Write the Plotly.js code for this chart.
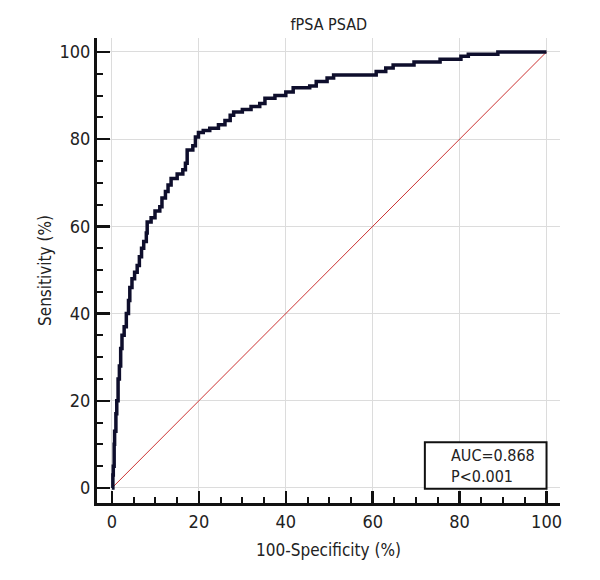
<!DOCTYPE html>
<html>
<head>
<meta charset="utf-8">
<script src="https://cdn.plot.ly/plotly-3.0.1.min.js"></script>
<style>
  body { margin: 0; background: #fff; }
  #plot { width: 600px; height: 580px; }
</style>
</head>
<body>
<div id="plot"></div>
<script>
// ROC curve vertices (100-specificity, sensitivity)
var fpr = [0, 0.2, 0.3, 0.5, 0.6, 0.9, 1.1, 1.4, 1.7, 2.0, 2.3, 2.8, 3.3, 3.8, 4.1, 4.6,
           5.2, 5.8, 6.3, 6.8, 7.3, 7.9, 8.1, 9.0, 9.9, 11.0, 11.5, 12.3, 12.9, 13.6,
           15.0, 16.3, 16.9, 17.3, 18.6, 19.2, 19.9, 21.0, 22.5, 24.5, 26.0, 27.2,
           28.0, 30.0, 32.0, 34.0, 35.2, 37.5, 40.0, 41.7, 45.5, 47.0, 49.5, 51.0,
           60.8, 63.0, 64.7, 69.5, 75.5, 80.3, 82.0, 88.8, 100];
var tpr = [0, 3, 5, 10, 13, 17, 20, 25, 28, 32, 35, 37, 40, 43, 46, 48,
           49.5, 51, 53, 55, 56.5, 58.5, 61, 62, 63.5, 64.5, 66.5, 68, 69.5, 71,
           72, 73, 74.5, 77.5, 78.5, 80.5, 81.5, 82, 82.5, 83.3, 84.3, 85.5,
           86.2, 86.8, 87.5, 88.2, 89.4, 90, 90.8, 91.8, 92.2, 93.2, 94, 94.7,
           95.5, 96.3, 97, 97.7, 98.3, 99, 99.5, 100, 100];
var diagX = [0, 100];
var diagY = [0, 100];
var chartTitle = 'fPSA PSAD';
var aucText = 'AUC=0.868';
var pText = 'P&lt;0.001';

var fontFam = '"Liberation Sans Narrow", "DejaVu Sans Condensed", "Arial Narrow", sans-serif';

var traces = [
  {
    x: diagX, y: diagY,
    mode: 'lines',
    line: {color: '#cc3333', width: 1},
    hoverinfo: 'skip'
  },
  {
    x: fpr, y: tpr,
    mode: 'lines',
    line: {color: '#0e0e2c', width: 3.5, shape: 'hv'}
  }
];

function axis(titleText, ticklen) {
  return {
    title: {text: titleText, font: {family: fontFam, size: 17, color: '#222'}},
    range: [-3.45, 103.1],
    tickvals: [0, 20, 40, 60, 80, 100],
    ticks: 'inside',
    ticklen: ticklen,
    tickwidth: 2.5,
    tickcolor: '#111',
    showline: true,
    linecolor: '#111',
    linewidth: 3,
    showgrid: true,
    gridcolor: '#dcdcdc',
    gridwidth: 1,
    zeroline: false,
    tickfont: {family: fontFam, size: 18, color: '#222'},
    minor: {dtick: 5, tick0: 0, ticks: 'inside', ticklen: 6, tickwidth: 2, tickcolor: '#111', showgrid: false},
    fixedrange: true
  };
}

var xa = axis('100-Specificity (%)', 12);
xa.title.standoff = 14;
var ya = axis('Sensitivity (%)', 13);
ya.range = [-3.45, 103.2];

var layout = {
  width: 600,
  height: 580,
  margin: {l: 97, r: 40, t: 38, b: 77},
  paper_bgcolor: '#fff',
  plot_bgcolor: '#fff',
  showlegend: false,
  title: {text: chartTitle, x: 0.548, xanchor: 'center', y: 0.968, font: {family: fontFam, size: 16, color: '#222'}},
  xaxis: xa,
  yaxis: ya,
  shapes: [{
    type: 'rect', xref: 'x', yref: 'y',
    x0: 72, x1: 100, y0: -0.2, y1: 10.5,
    line: {color: '#111', width: 2},
    fillcolor: '#fff',
    layer: 'above'
  }],
  annotations: [{
    xref: 'x', yref: 'y',
    x: 77.6, y: 5.1,
    xanchor: 'left', yanchor: 'middle', align: 'left',
    showarrow: false,
    text: aucText + '<br>' + pText,
    font: {family: fontFam, size: 16, color: '#222'}
  }]
};

Plotly.newPlot('plot', traces, layout, {displayModeBar: false, staticPlot: true});
</script>
</body>
</html>
